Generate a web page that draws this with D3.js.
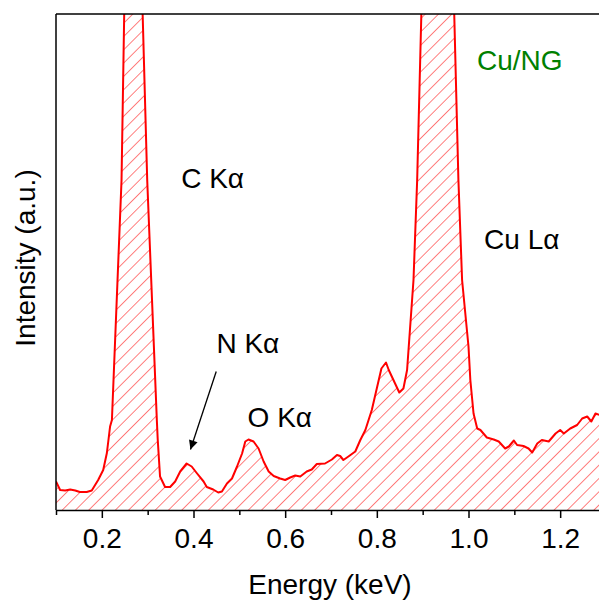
<!DOCTYPE html>
<html>
<head>
<meta charset="utf-8">
<script src="https://cdn.jsdelivr.net/npm/d3@7/dist/d3.min.js"></script>
<style>
  html, body { margin: 0; padding: 0; background: #fff; }
  svg { display: block; font-family: "Liberation Sans", Arial, sans-serif; }
</style>
</head>
<body>
<svg id="chart" width="599" height="605"></svg>
<script>
// EDX spectrum of Cu/NG: energy (keV) and intensity (arbitrary units)
const energy = [
  0.100, 0.109, 0.120, 0.131, 0.142, 0.152, 0.167, 0.178, 0.192, 0.203,
  0.211, 0.218, 0.222, 0.243, 0.250, 0.269, 0.287, 0.299, 0.320, 0.322,
  0.327, 0.338, 0.349, 0.360, 0.371, 0.385, 0.396, 0.407, 0.422, 0.429,
  0.443, 0.454, 0.462, 0.473, 0.484, 0.495, 0.506, 0.513, 0.520, 0.531,
  0.542, 0.553, 0.564, 0.575, 0.589, 0.600, 0.611, 0.622, 0.633, 0.647,
  0.658, 0.669, 0.687, 0.702, 0.713, 0.720, 0.727, 0.738, 0.753, 0.764,
  0.775, 0.789, 0.810, 0.820, 0.826, 0.849, 0.858, 0.866, 0.880, 0.888,
  0.899, 0.933, 0.967, 0.978, 0.986, 1.000, 1.004, 1.011, 1.019, 1.026,
  1.040, 1.055, 1.066, 1.080, 1.088, 1.099, 1.106, 1.120, 1.131, 1.139,
  1.150, 1.160, 1.175, 1.190, 1.200, 1.208, 1.222, 1.237, 1.248, 1.259,
  1.268, 1.277, 1.286, 1.300
];
const intensity = [
    57,   40,   39,   41,   39,   36,   36,   39,   60,   80,
   114,  167,  180,  660, 1060, 1140, 1060,  660,  180,  140,
    67,   46,   46,   57,   77,   93,   87,   74,   57,   46,
    41,   35,   37,   53,   63,   87,  113,  137,  141,  137,
   123,   97,   77,   68,   63,   60,   65,   69,   67,   77,
    81,   92,   93,  101,  110,  108,  100,  107,  117,  140,
   160,  200,  283,  295,  280,  235,  243,  280,  460,  660,
  1060, 1140, 1060,  660,  460,  327,  260,  193,  163,  160,
   145,  141,  137,  123,  127,  139,  130,  128,  123,  115,
   133,  140,  137,  153,  160,  153,  163,  170,  183,  187,
   177,  193,  190,  196
];
const xTicks = [0.2, 0.4, 0.6, 0.8, 1.0, 1.2];
const xMinorTicks = [0.1, 0.3, 0.5, 0.7, 0.9, 1.1, 1.3];
const peakLabels = [
  { text: "C K\u03b1",  e: 0.373, v: 645 },
  { text: "Cu L\u03b1", e: 1.034, v: 523 },
  { text: "N K\u03b1",  e: 0.450, v: 315 },
  { text: "O K\u03b1",  e: 0.518, v: 167 }
];
const sampleName = "Cu/NG";

const svg = d3.select("#chart");
const plotLeft = 56, plotRight = 606, plotTop = 14, plotBottom = 510;

const x = d3.scaleLinear().domain([0.1, 1.3]).range([plotLeft, plotRight]);
const y = d3.scaleLinear().domain([0, 992]).range([plotBottom, plotTop]);

const defs = svg.append("defs");
defs.append("clipPath").attr("id", "plot-clip")
  .append("rect").attr("x", plotLeft).attr("y", plotTop)
  .attr("width", plotRight - plotLeft).attr("height", plotBottom - plotTop);

const hatch = defs.append("pattern")
  .attr("id", "hatch")
  .attr("patternUnits", "userSpaceOnUse")
  .attr("width", 9.4).attr("height", 9.4)
  .attr("patternTransform", "rotate(45)");
hatch.append("line")
  .attr("x1", 0).attr("y1", -1).attr("x2", 0).attr("y2", 10.4)
  .attr("stroke", "#ff0000").attr("stroke-width", 1);

defs.append("marker")
  .attr("id", "arrowhead")
  .attr("viewBox", "0 0 10 10")
  .attr("refX", 10).attr("refY", 5)
  .attr("markerUnits", "userSpaceOnUse")
  .attr("markerWidth", 15).attr("markerHeight", 9)
  .attr("orient", "auto")
  .append("path").attr("d", "M0,0 L10,5 L0,10 Z").attr("fill", "#000");

const data = energy.map((e, i) => ({ e, v: intensity[i] }));

const plot = svg.append("g").attr("clip-path", "url(#plot-clip)");

plot.append("path")
  .datum(data)
  .attr("fill", "url(#hatch)")
  .attr("d", d3.area().x(d => x(d.e)).y0(y(0)).y1(d => y(d.v)));

plot.append("path")
  .datum(data)
  .attr("fill", "none")
  .attr("stroke", "#ff0000")
  .attr("stroke-width", 2)
  .attr("stroke-linejoin", "round")
  .attr("d", d3.line().x(d => x(d.e)).y(d => y(d.v)));

// frame: left and top edges
svg.append("line").attr("x1", plotLeft).attr("x2", plotLeft).attr("y1", plotTop).attr("y2", plotBottom)
  .attr("stroke", "#000").attr("stroke-width", 1.5);
svg.append("line").attr("x1", plotLeft).attr("x2", plotRight).attr("y1", plotTop).attr("y2", plotTop)
  .attr("stroke", "#000").attr("stroke-width", 1.5);

// bottom axis with major and minor ticks
const xAxis = svg.append("g").attr("transform", `translate(0,${plotBottom})`)
  .call(d3.axisBottom(x).tickValues(xTicks).tickFormat(d3.format(".1f"))
    .tickSize(8).tickSizeOuter(0).tickPadding(10));
xAxis.select(".domain").attr("stroke-width", 1.5);
xAxis.selectAll(".tick line").attr("stroke-width", 1.5);
xAxis.selectAll(".tick text")
  .attr("font-size", 28).attr("font-family", "Liberation Sans, Arial, sans-serif")
  .attr("fill", "#000");

svg.append("g").attr("transform", `translate(0,${plotBottom})`)
  .call(d3.axisBottom(x).tickValues(xMinorTicks).tickFormat("").tickSize(5).tickSizeOuter(0))
  .call(g => g.select(".domain").remove())
  .selectAll(".tick line").attr("stroke-width", 1.5);

// axis titles
svg.append("text")
  .attr("x", 330).attr("y", 594)
  .attr("text-anchor", "middle").attr("font-size", 28)
  .text("Energy (keV)");

svg.append("text")
  .attr("transform", "translate(35,258) rotate(-90)")
  .attr("text-anchor", "middle").attr("font-size", 28)
  .text("Intensity (a.u.)");

// peak annotations
svg.selectAll(".peak-label")
  .data(peakLabels)
  .join("text")
  .attr("class", "peak-label")
  .attr("x", d => x(d.e)).attr("y", d => y(d.v))
  .attr("font-size", 28)
  .text(d => d.text);

svg.append("text")
  .attr("x", 477).attr("y", 70)
  .attr("font-size", 28).attr("fill", "#008000")
  .text(sampleName);

// arrow pointing to the N K-alpha peak
svg.append("line")
  .attr("x1", x(0.4496)).attr("y1", y(277))
  .attr("x2", x(0.3934)).attr("y2", y(121))
  .attr("stroke", "#000").attr("stroke-width", 1.3)
  .attr("marker-end", "url(#arrowhead)");
</script>
</body>
</html>
